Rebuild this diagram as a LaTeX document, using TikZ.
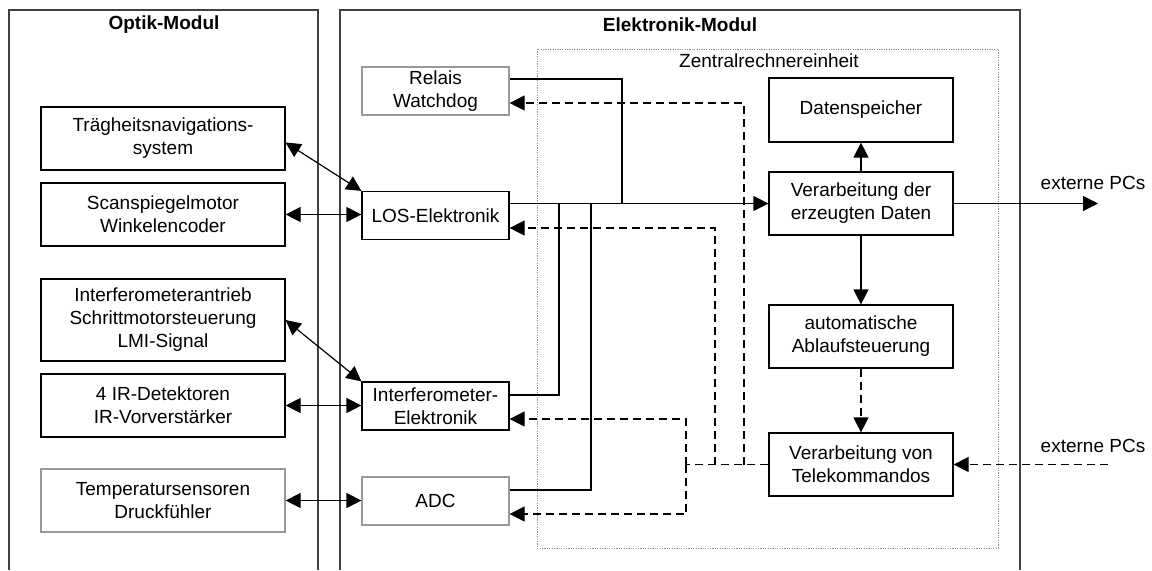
\documentclass[tikz,border=0pt]{standalone}
\usepackage{fontspec}
\setmainfont{Liberation Sans}
\usetikzlibrary{arrows.meta}

\begin{document}
\begin{tikzpicture}[x=0.5pt,y=-0.5pt,
	every node/.style={font=\fontsize{9.5}{11.5}\selectfont, align=center},
	title/.style={font=\fontsize{9.5}{11.5}\selectfont\bfseries},
	optbox/.style={draw, line width=0.6pt, minimum width=122pt, minimum height=31.5pt, inner sep=0pt},
	elbox/.style={draw, line width=0.6pt, minimum width=73.5pt, minimum height=24pt, inner sep=0pt},
	zrbox/.style={draw, line width=0.6pt, minimum width=92pt, minimum height=31.5pt, inner sep=0pt},
	dimbox/.style={draw=black!40},
	wire/.style={line width=0.6pt},
	link/.style={wire, -{Triangle[length=7.5pt,width=7.5pt]}},
	dwire/.style={wire, dash pattern=on 4pt off 2.5pt},
	dlink/.style={link, dash pattern=on 4pt off 2.5pt},
	both/.style={wire, {Triangle[length=7.5pt,width=7.5pt]}-{Triangle[length=7.5pt,width=7.5pt]}}]
	\useasboundingbox (0,0) rectangle (1152,570);
	
	\draw[wire, black!75] (9,570) -- (9,10) -- (318,10) -- (318,570);
	\draw[wire, black!75] (340,570) -- (340,10) -- (1020,10) -- (1020,570);
	\draw[black!45, line width=0.5pt, dash pattern=on 0.6pt off 0.6pt] (537,49) rectangle (998,548);
	\node[title] (optik) at (164,25) {Optik-Modul};
	\node[title] (elektronik) at (680,25) {Elektronik-Modul};
	\node (zentral) at (769,61) {Zentralrechnereinheit};
	
	\node[optbox] (traeg) at (163,138.5) {Trägheitsnavigations-\\system};
	\node[optbox] (scan) at (163,214.5) {Scanspiegelmotor\\Winkelencoder};
	\node[optbox, minimum height=41pt] (iantrieb) at (163,320) {Interferometerantrieb\\Schrittmotorsteuerung\\LMI-Signal};
	\node[optbox] (irdet) at (163,405.5) {4 IR-Detektoren\\IR-Vorverstärker};
	\node[optbox, dimbox] (temp) at (163,500.5) {Temperatursensoren\\Druckfühler};
	
	\node[elbox, dimbox] (relais) at (435.5,91) {Relais\\Watchdog};
	\node[elbox] (los) at (435.5,215.5) {LOS-Elektronik};
	\node[elbox] (ielek) at (435.5,406) {Interferometer-\\Elektronik};
	\node[elbox, dimbox] (adc) at (435.5,501) {ADC};
	
	\node[zrbox, minimum height=32pt] (speicher) at (861,110) {Datenspeicher};
	\node[zrbox] (verarb) at (861,203.5) {Verarbeitung der\\erzeugten Daten};
	\node[zrbox] (ablauf) at (861,336.5) {automatische\\Ablaufsteuerung};
	\node[zrbox] (tele) at (861,464.5) {Verarbeitung von\\Telekommandos};
	
	\node (pcouttext) at (1093,183) {externe PCs};
	\node (pcintext) at (1093,446) {externe PCs};
	\coordinate (pcout) at (1098,203.5);
	\coordinate (pcin) at (1108,464.5);
	
	\coordinate (jrel) at (622,203.5);
	\coordinate (jadc) at (591,203.5);
	\coordinate (jie) at (559,203.5);
	\coordinate (dl) at (686,464.5);
	\coordinate (dm) at (715,464.5);
	\coordinate (dr) at (744,464.5);
	
	\draw[both] ([yshift=-2pt]traeg.east) -- (los.north west);
	\draw[both] (scan.east) -- (scan.east -| los.west);
	\draw[both] (iantrieb.east) -- (ielek.north west);
	\draw[both] (irdet.east) -- (irdet.east -| ielek.west);
	\draw[both] (temp.east) -- (temp.east -| adc.west);
	
	\draw[link] (los.east |- verarb.west) -- (verarb.west);
	\draw[wire] ([yshift=6pt]relais.east) -| (jrel);
	\draw[wire] ([yshift=5.5pt]ielek.east) -| (jie);
	\draw[wire] ([yshift=5.5pt]adc.east) -| (jadc);
	
	\draw[link] (verarb) -- (speicher);
	\draw[link] (verarb) -- (ablauf);
	\draw[dlink] (ablauf) -- (tele);
	\draw[link] (verarb.east) -- (pcout);
	\draw[dlink] (pcin) -- (tele.east);
	
	\draw[dwire] (tele.west) -- (dl);
	\draw[dlink] (dr) |- ([yshift=-6pt]relais.east);
	\draw[dlink] (dm) |- ([yshift=-6.25pt]los.east);
	\draw[dlink] (dl) |- ([yshift=-6.5pt]ielek.east);
	\draw[dlink] (dl) |- ([yshift=-6.5pt]adc.east);
\end{tikzpicture}
\end{document}
